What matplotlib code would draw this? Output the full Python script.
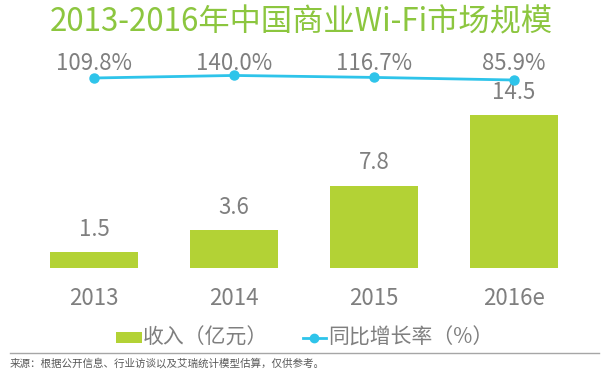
import matplotlib
matplotlib.use("Agg")
import matplotlib.pyplot as plt
from matplotlib.lines import Line2D
from matplotlib.patches import Rectangle
from matplotlib.transforms import blended_transform_factory

plt.rcParams['font.family'] = ['Noto Sans CJK SC', 'DejaVu Sans']

categories = ["2013", "2014", "2015", "2016e"]
revenue = [1.5, 3.6, 7.8, 14.5]
growth = [109.8, 140.0, 116.7, 85.9]
growth_labels = ["109.8%", "140.0%", "116.7%", "85.9%"]
title = "2013-2016年中国商业Wi-Fi市场规模"
legend_bar = "收入（亿元）"
legend_line = "同比增长率（%）"
source = "来源：根据公开信息、行业访谈以及艾瑞统计模型估算，仅供参考。"

W, H = 612, 377
BAR_C = "#b3d235"
LINE_C = "#2ec4ea"
TXT_C = "#7f7f7f"
TITLE_C = "#8cc63f"


def fx(px):
    return px / W


def fy(py):
    return 1 - py / H


fig = plt.figure(figsize=(W / 100, H / 100), dpi=100)

# axes: x from 24 to 584 px, y from 60 to 268 px (top origin)
left, right, top, bottom = 24, 584, 60, 268
ax = fig.add_axes([fx(left), fy(bottom), (right - left) / W, (bottom - top) / H])
ax.set_xlim(-0.5, 3.5)
ax.set_ylim(0, (bottom - top) / 10.55)
x = list(range(len(categories)))
ax.bar(x, revenue, width=88 / 140, color=BAR_C)
for xi, v in zip(x, revenue):
    ax.text(xi, v + 2.18, f"{v}", ha="center", va="center", fontsize=16, color=TXT_C)
for s in ax.spines.values():
    s.set_visible(False)
ax.set_yticks([])
ax.set_xticks(x)
ax.set_xticklabels(categories, fontsize=16, color=TXT_C)
ax.tick_params(axis="x", length=0, pad=14)

ax2 = ax.twinx()
ax2.set_ylim(-2152, 324)
ax2.plot(x, growth, color=LINE_C, lw=2, marker="o", ms=6.5)
tr = blended_transform_factory(ax2.transData, fig.transFigure)
for xi, lab in zip(x, growth_labels):
    ax2.text(xi, fy(64), lab, ha="center", va="center", fontsize=16, color=TXT_C, transform=tr)
for s in ax2.spines.values():
    s.set_visible(False)
ax2.set_yticks([])

fig.text(fx(301), fy(22), title, ha="center", va="center", fontsize=22.5, color=TITLE_C)

# legend
fig.add_artist(Rectangle((fx(116), fy(343)), (142 - 116) / W, 11 / H,
                         transform=fig.transFigure, facecolor=BAR_C, edgecolor="none"))
fig.text(fx(143), fy(338), legend_bar, ha="left", va="center", fontsize=15, color=TXT_C)
fig.add_artist(Line2D([fx(303), fx(326)], [fy(338), fy(338)], color=LINE_C, lw=2,
                      transform=fig.transFigure))
fig.add_artist(Line2D([fx(314.5)], [fy(338)], color=LINE_C, marker="o", ms=6,
                      transform=fig.transFigure))
fig.text(fx(328), fy(338), legend_line, ha="left", va="center", fontsize=15, color=TXT_C)

fig.add_artist(Line2D([fx(10), fx(599)], [fy(353), fy(353)], color="#a6a6a6", lw=1))
fig.text(fx(10), fy(363), source, ha="left", va="center", fontsize=7.6, color="#595959")

fig.savefig("out.png", dpi=100)
